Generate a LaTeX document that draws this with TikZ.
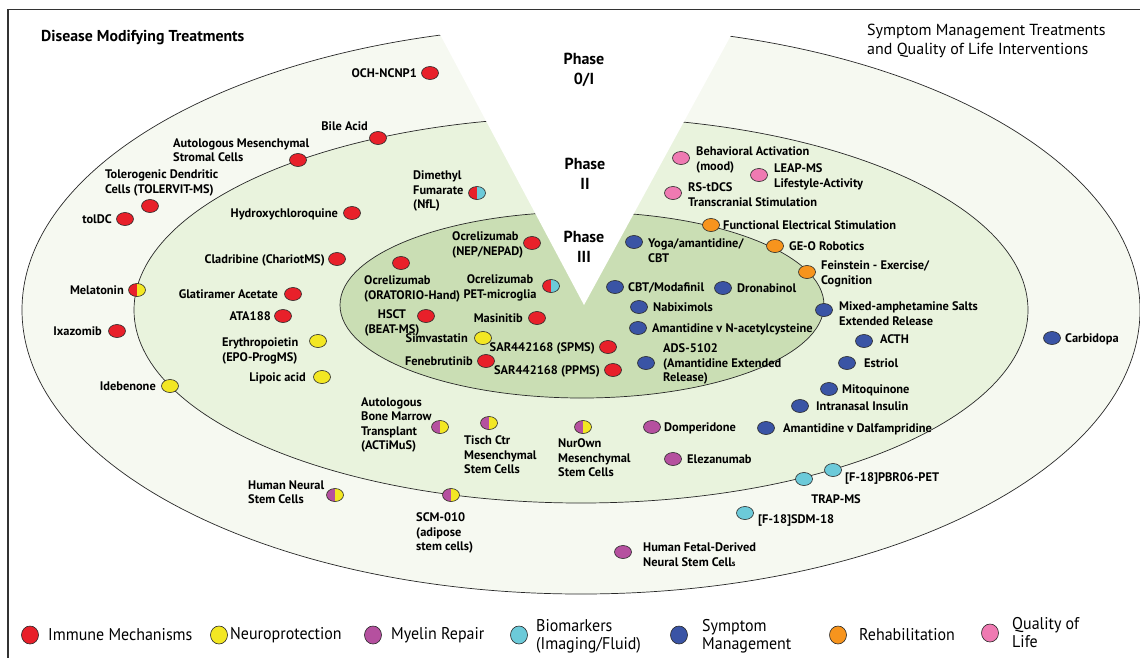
\documentclass[tikz,border=0pt]{standalone}
\usepackage{fontspec}
\setmainfont{PT Sans}
\newfontfamily\lgfont[FakeStretch=0.94]{PT Sans}
\usetikzlibrary{shapes.geometric}
\definecolor{cRed}{HTML}{E8202A}
\definecolor{cYel}{HTML}{F3E723}
\definecolor{cPur}{HTML}{B5509F}
\definecolor{cCya}{HTML}{6CCAD9}
\definecolor{cBlu}{HTML}{3A54A5}
\definecolor{cOra}{HTML}{F7941D}
\definecolor{cPin}{HTML}{EF7AB2}
\definecolor{ringA}{RGB}{246,249,241}
\definecolor{ringB}{RGB}{233,243,221}
\definecolor{ringC}{RGB}{202,222,180}
\definecolor{edge}{RGB}{40,40,40}
\tikzset{
  dotbase/.style={ellipse, draw=edge, line width=0.6pt, minimum width=17pt, minimum height=13pt, inner sep=0pt},
  im/.style={dotbase, fill=cRed},
  np/.style={dotbase, fill=cYel},
  mr/.style={dotbase, fill=cPur},
  bm/.style={dotbase, fill=cCya},
  sm/.style={dotbase, fill=cBlu},
  rh/.style={dotbase, fill=cOra},
  ql/.style={dotbase, fill=cPin},
  twotone/.style 2 args={dotbase, fill=#2, path picture={\fill[#1] (path picture bounding box.south west) rectangle (path picture bounding box.north);}},
  lgdot/.style={ellipse, draw=edge, line width=0.6pt, minimum width=17pt, minimum height=18pt, inner sep=0pt},
  lbl/.style={font=\fontsize{12.4}{14.5}\selectfont\bfseries, inner sep=0pt, align=left},
  lblc/.style={lbl, align=center},
  lgtxt/.style={font=\lgfont\fontsize{17}{18}\selectfont, inner sep=0pt, align=left, anchor=west},
  phase/.style={font=\fontsize{16}{19.5}\selectfont\bfseries, inner sep=0pt, align=center, anchor=north},
  ring/.style={draw=edge, line width=0.7pt}
}
\begin{document}
\begin{tikzpicture}[x=1pt,y=-1pt]
\useasboundingbox (0,0) rectangle (1140,657);
\fill[white] (0,0) rectangle (1140,657);
% rings
\path[ring, fill=ringA] (581,310) ellipse [x radius=559pt, y radius=284pt];
\path[ring, fill=ringB] (581,310) ellipse [x radius=447pt, y radius=193pt];
\path[ring, fill=ringC] (582,305) ellipse [x radius=242pt, y radius=93pt];
% wedge
\fill[white] (584,305) -- (424.4,5) -- (747.5,5) -- cycle;
% frame
\draw[line width=1.2pt, black!80] (8,700) -- (8,9.5) -- (1160,9.5);
% headings
\node[font=\fontsize{15.8}{18}\selectfont\bfseries, inner sep=0pt, anchor=north west] (hDMT) at (41,30.5) {Disease Modifying Treatments};
\node[font=\fontsize{16}{19.5}\selectfont, inner sep=0pt, anchor=north west, align=left] (hSMT) at (867,23.5) {Symptom Management Treatments\\and Quality of Life Interventions};
\node[phase] (ph0) at (584,53) {Phase\\0/I};
\node[phase] (ph2) at (585,158) {Phase\\II};
\node[phase] (ph3) at (584,231) {Phase\\III};
% dots
\node[im] (dOCH) at (430,73) {};
\node[im] (dBile) at (378,138) {};
\node[im] (dAMSC) at (298,160) {};
\node[im] (dTDC) at (150,206) {};
\node[im] (dtolDC) at (125,219) {};
\node[im] (dHCQ) at (352,213) {};
\node[twotone={cRed}{cCya}] (dDMF) at (477,193) {};
\node[im] (dClad) at (337,259) {};
\node[twotone={cRed}{cYel}] (dMel) at (137,290) {};
\node[im] (dGlat) at (293,294) {};
\node[im] (dATA) at (283,316) {};
\node[im] (dIxa) at (117,331) {};
\node[np] (dEPO) at (318,341) {};
\node[np] (dLip) at (322,377) {};
\node[np] (dIde) at (170,386) {};
\node[im] (dOcrN) at (532,243) {};
\node[im] (dOcrO) at (401,263) {};
\node[twotone={cRed}{cCya}] (dOcrP) at (551,286) {};
\node[im] (dHSCT) at (426,316) {};
\node[im] (dMas) at (537,318) {};
\node[np] (dSim) at (483,338) {};
\node[im] (dFen) at (486,361) {};
\node[im] (dSARs) at (608,347) {};
\node[im] (dSARp) at (613,370) {};
\node[sm] (dYoga) at (634,242) {};
\node[sm] (dCBTM) at (615,287) {};
\node[sm] (dDron) at (723,288) {};
\node[sm] (dNab) at (639,307) {};
\node[sm] (dAmNA) at (638,328) {};
\node[sm] (dADS) at (646,363) {};
\node[rh] (dFES) at (711,225) {};
\node[rh] (dGEO) at (775,246) {};
\node[rh] (dFein) at (807,272) {};
\node[sm] (dMAS) at (824,310) {};
\node[sm] (dACTH) at (864,341) {};
\node[sm] (dEst) at (847,363) {};
\node[sm] (dMito) at (829,389) {};
\node[sm] (dIns) at (800,406) {};
\node[sm] (dAmDa) at (766,428) {};
\node[mr] (dDomp) at (652,427) {};
\node[sm] (dCarb) at (1052,338) {};
\node[twotone={cPur}{cYel}] (dABMT) at (440,427) {};
\node[twotone={cPur}{cYel}] (dTisch) at (489,423) {};
\node[twotone={cPur}{cYel}] (dNur) at (583,427) {};
\node[mr] (dElez) at (673,459) {};
\node[twotone={cPur}{cYel}] (dHNSC) at (335,495) {};
\node[twotone={cPur}{cYel}] (dSCM) at (451,495) {};
\node[mr] (dHFD) at (623,552) {};
\node[bm] (dPBR) at (833,470) {};
\node[bm] (dTRAP) at (804,479) {};
\node[bm] (dSDM) at (745,513) {};
\node[ql] (dBA) at (681,158) {};
\node[ql] (dLEAP) at (759,175) {};
\node[ql] (dRS) at (673,193) {};
% labels
\node[lbl, anchor=north east] (tOCH) at (417,68.5) {OCH-NCNP1};
\node[lbl, anchor=north east] (tBile) at (368,121.5) {Bile Acid};
\node[lbl, anchor=north west] (tAMSC) at (173,138.5) {Autologous Mesenchymal\\Stromal Cells};
\node[lbl, anchor=north west] (tTDC) at (105,169.5) {Tolerogenic Dendritic\\Cells (TOLERVIT-MS)};
\node[lbl, anchor=north east] (ttolDC) at (112,214.5) {tolDC};
\node[lbl, anchor=north east] (tHCQ) at (338,208.5) {Hydroxychloroquine};
\node[lbl, anchor=north west] (tDMF) at (413,170.5) {Dimethyl\\Fumarate\\(NfL)};
\node[lbl, anchor=north east] (tClad) at (325,254.5) {Cladribine (ChariotMS)};
\node[lbl, anchor=north east] (tMel) at (124,285.5) {Melatonin};
\node[lbl, anchor=north east] (tGlat) at (278,289.5) {Glatiramer Acetate};
\node[lbl, anchor=north east] (tATA) at (271,311.5) {ATA188};
\node[lbl, anchor=north east] (tIxa) at (102,326.5) {Ixazomib};
\node[lbl, anchor=north west] (tEPO) at (222,337.5) {Erythropoietin\\(EPO-ProgMS)};
\node[lbl, anchor=north east] (tLip) at (306,372.5) {Lipoic acid};
\node[lbl, anchor=north east] (tIde) at (156,381.5) {Idebenone};
\node[lbl, anchor=north west] (tOcrN) at (452,231.5) {Ocrelizumab\\(NEP/NEPAD)};
\node[lbl, anchor=north west] (tOcrO) at (364,275.5) {Ocrelizumab\\(ORATORIO-Hand)};
\node[lblc, anchor=north] (tOcrP) at (500,274.5) {Ocrelizumab\\PET-microglia};
\node[lblc, anchor=north] (tHSCT) at (392,309.5) {HSCT\\(BEAT-MS)};
\node[lbl, anchor=north east] (tMas) at (523,313.5) {Masinitib};
\node[lbl, anchor=north east] (tSim) at (468,333.5) {Simvastatin};
\node[lbl, anchor=north east] (tFen) at (473,356.5) {Fenebrutinib};
\node[lbl, anchor=north east] (tSARs) at (595,342.5) {SAR442168 (SPMS)};
\node[lbl, anchor=north east] (tSARp) at (600,365.5) {SAR442168 (PPMS)};
\node[lbl, anchor=north west] (tYoga) at (648,238.5) {Yoga/amantidine/\\CBT};
\node[lbl, anchor=north west] (tCBTM) at (628,282.5) {CBT/Modafinil};
\node[lbl, anchor=north west] (tDron) at (737,283.5) {Dronabinol};
\node[lbl, anchor=north west] (tNab) at (653,302.5) {Nabiximols};
\node[lbl, anchor=north west] (tAmNA) at (652,323.5) {Amantidine v N-acetylcysteine};
\node[lbl, anchor=north west] (tADS) at (663,343.5) {ADS-5102\\(Amantidine Extended\\Release)};
\node[lbl, anchor=north west] (tFES) at (723,220.5) {Functional Electrical Stimulation};
\node[lbl, anchor=north west] (tGEO) at (789,241.5) {GE-O Robotics};
\node[lbl, anchor=north west] (tFein) at (821,260.5) {Feinstein - Exercise/\\Cognition};
\node[lbl, anchor=north west] (tMAS) at (839,301.5) {Mixed-amphetamine Salts\\Extended Release};
\node[lbl, anchor=north west] (tACTH) at (880,334.5) {ACTH};
\node[lbl, anchor=north west] (tEst) at (864,358.5) {Estriol};
\node[lbl, anchor=north west] (tMito) at (842,384.5) {Mitoquinone};
\node[lbl, anchor=north west] (tIns) at (816,401.5) {Intranasal Insulin};
\node[lbl, anchor=north west] (tAmDa) at (783,423.5) {Amantidine v Dalfampridine};
\node[lbl, anchor=north west] (tDomp) at (664,422.5) {Domperidone};
\node[lbl, anchor=north west] (tCarb) at (1065,333.5) {Carbidopa};
\node[lbl, anchor=north west] (tABMT) at (361,397.5) {Autologous\\Bone Marrow\\Transplant\\(ACTiMuS)};
\node[lbl, anchor=north west] (tTisch) at (464,435.5) {Tisch Ctr\\Mesenchymal\\Stem Cells};
\node[lbl, anchor=north west] (tNur) at (558,438.5) {NurOwn\\Mesenchymal\\Stem Cells};
\node[lbl, anchor=north west] (tElez) at (687,454.5) {Elezanumab};
\node[lbl, anchor=north west] (tHNSC) at (248,480.5) {Human Neural\\Stem Cells};
\node[lbl, anchor=north west] (tSCM) at (416,512.5) {SCM-010\\(adipose\\stem cells)};
\node[lbl, anchor=north west] (tHFD) at (643,542.5) {Human Fetal-Derived\\Neural Stem Cell{\fontsize{8.5}{8.5}\selectfont s}};
\node[lbl, anchor=north west] (tPBR) at (845,472.5) {[F-18]PBR06-PET};
\node[lblc, anchor=north] (tTRAP) at (836,494.5) {TRAP-MS};
\node[lbl, anchor=north west] (tSDM) at (758,514.5) {[F-18]SDM-18};
\node[lbl, anchor=north west] (tBA) at (696,146.5) {Behavioral Activation\\(mood)};
\node[lbl, anchor=north west] (tLEAP) at (774,163.5) {LEAP-MS\\Lifestyle-Activity};
\node[lbl, anchor=north west] (tRS) at (688,182.5) {RS-tDCS\\Transcranial Stimulation};
% legend
\node[lgdot, fill=cRed] (lgdIM) at (30,635) {};
\node[lgtxt] (lgIM) at (48,635) {Immune Mechanisms};
\node[lgdot, fill=cYel] (lgdNP) at (219,635) {};
\node[lgtxt] (lgNP) at (230,635) {Neuroprotection};
\node[lgdot, fill=cPur] (lgdMR) at (373,635) {};
\node[lgtxt] (lgMR) at (391,635) {Myelin Repair};
\node[lgdot, fill=cCya] (lgdBM) at (519,635) {};
\node[lgtxt] (lgBM) at (536,636) {Biomarkers\\(Imaging/Fluid)};
\node[lgdot, fill=cBlu] (lgdSM) at (679,635) {};
\node[lgtxt] (lgSM) at (702,636) {Symptom\\Management};
\node[lgdot, fill=cOra] (lgdRH) at (838,635) {};
\node[lgtxt] (lgRH) at (859,635) {Rehabilitation};
\node[lgdot, fill=cPin] (lgdQL) at (990,633) {};
\node[lgtxt] (lgQL) at (1012,633) {Quality of\\Life};
\end{tikzpicture}
\end{document}
